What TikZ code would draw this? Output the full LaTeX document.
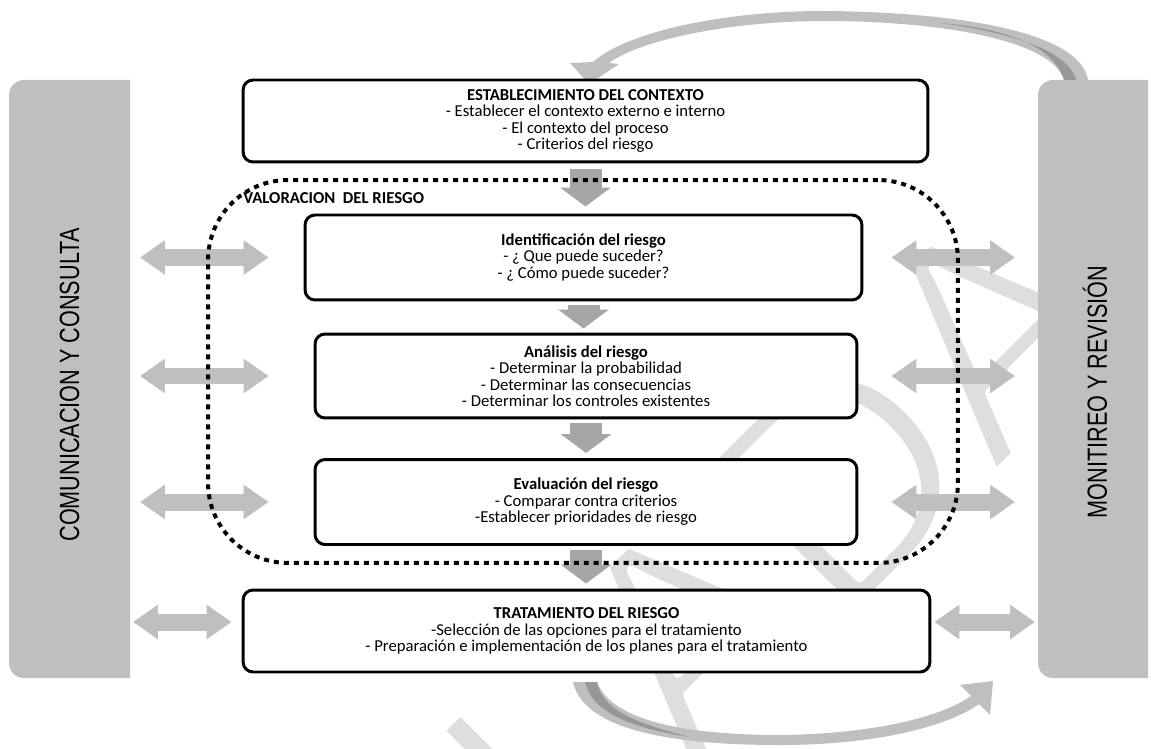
\documentclass[tikz,border=0pt]{standalone}
\usepackage{fontspec}
\setmainfont{Carlito}
\newfontfamily\barfont{Liberation Sans}
\usetikzlibrary{arrows.meta,calc}

\definecolor{barfill}{HTML}{BFBFBF}
\definecolor{flowfill}{HTML}{A6A6A6}
\definecolor{curvedark}{HTML}{979797}
\definecolor{markfill}{HTML}{DEDEDE}

\tikzset{
  stage/.style={draw, line width=1.7pt, rounded corners=0.2cm, fill=white,
    align=center, inner sep=0pt, font=\fontsize{9.5}{9.4}\selectfont},
  flow/.style={draw=flowfill, line width=0.64cm, -{Triangle[width=1.0cm,length=0.38cm]}},
  biarrow/.style={draw=barfill, line width=0.34cm,
    {Triangle[width=0.66cm,length=0.5cm]}-{Triangle[width=0.66cm,length=0.5cm]}},
  sidetext/.style={rotate=90, inner sep=0pt, font=\barfont\fontsize{15.8}{16}\selectfont},
}

\begin{document}
\begin{tikzpicture}[x=0.02cm, y=-0.02cm]
\useasboundingbox (0,0) rectangle (1151,749);

% watermark (thinned letters)
\node[rotate=45, anchor=base east, inner sep=0pt, text=markfill,
  font=\barfont\fontsize{175}{175}\selectfont] (mark) at (1140,330)
  {\special{pdf:literal direct 2 Tr 5 w 1 j 1 J 1 G}CONTROLADA\special{pdf:literal direct 0 Tr}};

% side bars
\fill[barfill] (69.5,80) -- (130,80) -- (130,678) -- (69.5,678) [rounded corners=0.3cm]
  -- (9,678) -- (9,80) -- cycle;
\fill[barfill] (1093,80) -- (1148,80) -- (1148,678) -- (1093,678) [rounded corners=0.3cm]
  -- (1038,678) -- (1038,80) -- cycle;
\coordinate (lbarin) at (130,379);
\coordinate (rbarin) at (1038,379);
\node[sidetext] (lbar) at (69.5,385) {\scalebox{0.78}[1]{COMUNICACION Y CONSULTA}};
\node[sidetext] (rbar) at (1095,392) {\scalebox{0.78}[1]{MONITIREO Y REVISIÓN}};

% curved arrows
\fill[barfill] (1088,80) .. controls (1080,30) and (950,12) .. (824,11)
  .. controls (720,11) and (625,33) .. (593,62) -- (570,63) -- (589,84) -- (619,64) -- (609,63)
  .. controls (640,40) and (730,21) .. (824,21) .. controls (940,21) and (1052,40) .. (1064,80) -- cycle;
\fill[curvedark] (1064,80) .. controls (1052,40) and (990,27) .. (940,23)
  .. controls (1000,31) and (1068,48) .. (1076,80) -- cycle;
\fill[barfill] (573,682) .. controls (585,735) and (690,745) .. (780,745)
  .. controls (880,745) and (950,725) .. (979,704) -- (990,715) -- (993,681) -- (960,685) -- (971,696)
  .. controls (940,718) and (870,734) .. (780,735) .. controls (690,735) and (612,722) .. (597,682) -- cycle;
\fill[curvedark] (585,682) .. controls (592,712) and (630,728) .. (690,737)
  .. controls (630,722) and (602,708) .. (597,682) -- cycle;

% stages
\node[stage, minimum width=13.7cm, minimum height=1.64cm] (ctx) at (585.5,121)
  {\textbf{ESTABLECIMIENTO DEL CONTEXTO}\\- Establecer el contexto externo e interno\\
   - El contexto del proceso\\- Criterios del riesgo};
\node[stage, minimum width=11.14cm, minimum height=1.7cm] (ident) at (583.5,257.5)
  {\textbf{Identificación del riesgo}\\- ¿ Que puede suceder?\\- ¿ Cómo puede suceder?};
\node[stage, minimum width=10.84cm, minimum height=1.68cm] (anal) at (586,376)
  {\textbf{Análisis del riesgo}\\- Determinar la probabilidad\\- Determinar las consecuencias\\
   - Determinar los controles existentes};
\node[stage, minimum width=10.84cm, minimum height=1.7cm] (eval) at (586,502)
  {\textbf{Evaluación del riesgo}\\- Comparar contra criterios\\-Establecer prioridades de riesgo};
\node[stage, minimum width=13.74cm, minimum height=1.64cm] (trat) at (586.5,631)
  {\textbf{TRATAMIENTO DEL RIESGO}\\-Selección de las opciones para el tratamiento\\
   - Preparación e implementación de los planes para el tratamiento};

% flow between stages
\draw[flow] ($(ctx.south)+(0,6)$) -- ($(ctx.south |- ident.north)+(0,-7)$);
\draw[flow] ($(ident.south)+(0,4)$) -- ($(ident.south |- anal.north)+(0,-4)$);
\draw[flow] ($(anal.south)+(0,4)$) -- ($(anal.south |- eval.north)+(0,-5)$);
\draw[flow] ($(eval.south)+(0,4)$) -- ($(eval.south |- trat.north)+(0,-5)$);

% links to the side bars
\foreach \n/\l/\r in {ident/35/28, anal/45/33, eval/45/33}{
  \draw[biarrow] ($(lbarin |- \n.west)+(10,0)$) -- ($(\n.west)+(-\l,0)$);
  \draw[biarrow] ($(\n.east)+(\r,0)$) -- ($(rbarin |- \n.east)+(-23,0)$);
}
\draw[biarrow] ($(lbarin |- trat.west)+(3,-9)$) -- ($(trat.west)+(-10,-9)$);
\draw[biarrow] ($(trat.east)+(3,-9)$) -- ($(rbarin |- trat.east)+(-3,-9)$);

% risk assessment
\node[draw, line width=0.08cm, dash pattern=on 0.1cm off 0.1cm, rounded corners=1.6cm,
  minimum width=15cm, minimum height=7.66cm] (valor) at (583,371.5) {};
\node[anchor=west, inner sep=0pt, font=\bfseries\fontsize{9.5}{9.5}\selectfont] (valtitle)
  at (243,198) {VALORACION\ \ DEL RIESGO};
\end{tikzpicture}
\end{document}
